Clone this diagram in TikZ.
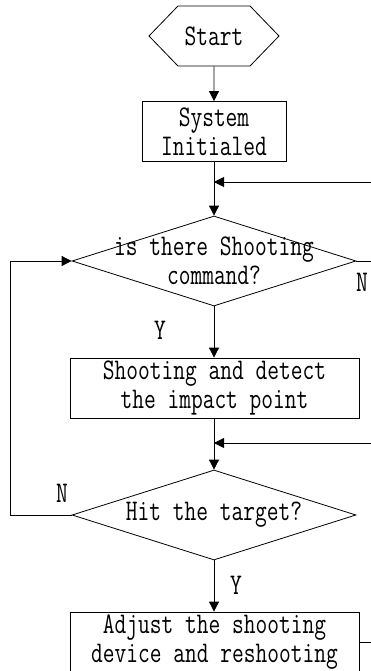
\documentclass[tikz,border=0pt]{standalone}
\usepackage{fontspec}
\setmonofont{Latin Modern Mono}[FakeStretch=0.76]
\renewcommand{\familydefault}{\ttdefault}
\usetikzlibrary{shapes.geometric,shapes.symbols,arrows.meta}
\begin{document}
\begin{tikzpicture}[x=1pt,y=-1pt,line width=0.8pt,
		every node/.style={font=\fontsize{30}{29}\selectfont},
		box/.style={draw,rectangle,inner sep=0pt,minimum height=60pt,align=center},
		test/.style={draw,diamond,inner sep=0pt,minimum width=284pt,minimum height=90pt},
		flow/.style={-{Triangle[length=10pt,width=10pt]}}]
		\useasboundingbox (0,0) rectangle (371,671);
		\node[draw,signal,signal to=west and east,signal pointer angle=92,
		minimum width=130pt,minimum height=60pt,inner sep=0pt] (start) at (214,36) {Start};
		\node[box,minimum width=144pt] (init) at (214,131.5) {System\\Initialed};
		\node[test] (ask) at (214,261) {};
		\node[align=center,inner sep=0pt] (askt) at (214,261) {is there Shooting\\command?};
		\node[box,minimum width=289pt] (shoot) at (214.5,388) {Shooting and detect\\the impact point};
		\node[test] (hit) at (214,515) {};
		\node[inner sep=0pt] (hitt) at (214,515) {Hit the target?};
		\node[box,minimum width=289pt] (adjust) at (214.5,642) {Adjust the shooting\\device and reshooting};
		\coordinate (j1) at (214,182);
		\coordinate (j2) at (214,443);
		\coordinate (rgt) at (371,0);
		\coordinate (lft) at (10,0);
		\draw[flow] (start) -- (init);
		\draw[flow] (init.south) -- (ask.north);
		\draw[flow] (j1 -| rgt) -- (j1);
		\draw (ask.east) -- (ask.east -| rgt);
		\node (n1) at (362,282) {N};
		\draw[flow] (ask.south) -- (shoot.north -| ask.south);
		\node (y1) at (160,330) {Y};
		\draw[flow] (shoot.south -| hit.north) -- (hit.north);
		\draw[flow] (j2 -| rgt) -- (j2);
		\draw[flow] (hit.west) -- (hit.west -| lft) |- (ask.west);
		\node (n2) at (62,493) {N};
		\draw[flow] (hit.south) -- (adjust.north -| hit.south);
		\node (y2) at (236,585) {Y};
		\draw (adjust.east) -- (adjust.east -| rgt);
	\end{tikzpicture}
\end{document}
